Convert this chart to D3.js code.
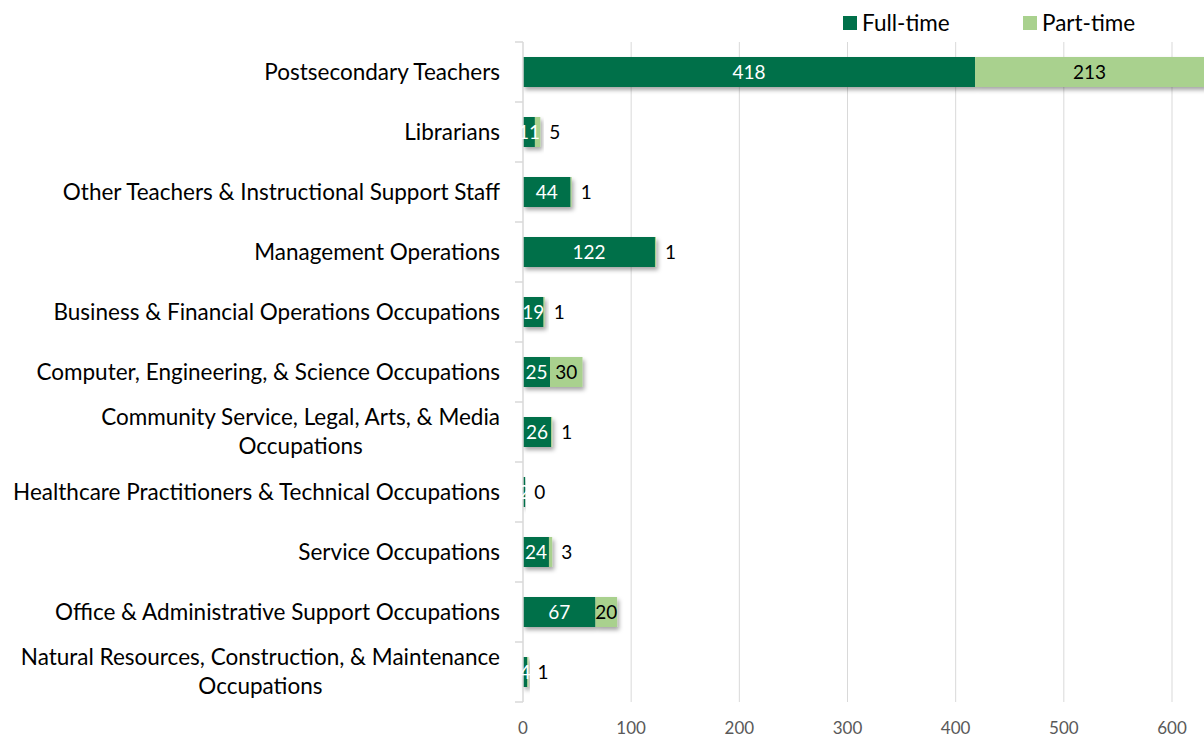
<!DOCTYPE html>
<html>
<head>
<meta charset="utf-8">
<script src="https://cdn.jsdelivr.net/npm/d3@7"></script>
<style>
  body { margin: 0; background: #fff; }
  svg { display: block; font-family: Lato, "Open Sans", sans-serif; }
</style>
</head>
<body>
<svg id="chart"></svg>
<script>
const width = 1204, height = 737;

const categories = [
  ["Postsecondary Teachers"],
  ["Librarians"],
  ["Other Teachers & Instructional Support Staff"],
  ["Management Operations"],
  ["Business & Financial Operations Occupations"],
  ["Computer, Engineering, & Science Occupations"],
  ["Community Service, Legal, Arts, & Media", "Occupations"],
  ["Healthcare Practitioners & Technical Occupations"],
  ["Service Occupations"],
  ["Office & Administrative Support Occupations"],
  ["Natural Resources, Construction, & Maintenance", "Occupations"]
];
const fullTime = [418, 11, 44, 122, 19, 25, 26, 2, 24, 67, 4];
const partTime = [213, 5, 1, 1, 1, 30, 1, 0, 3, 20, 1];
const xTicks = [0, 100, 200, 300, 400, 500, 600];
const seriesNames = ["Full-time", "Part-time"];
const colors = { full: "#00704a", part: "#a9d18e" };

const svg = d3.select("#chart").attr("width", width).attr("height", height);

const x = d3.scaleLinear().domain([0, 600]).range([523, 1172]);
const y = d3.scaleBand().domain(d3.range(categories.length)).range([42, 702]).paddingInner(0.5).paddingOuter(0.25);
const band = d3.scaleBand().domain(d3.range(categories.length)).range([42, 702]);

const defs = svg.append("defs");
const f = defs.append("filter").attr("id", "shadow").attr("x", "-20%").attr("y", "-20%").attr("width", "140%").attr("height", "160%");
f.append("feDropShadow").attr("dx", 2).attr("dy", 3).attr("stdDeviation", 2).attr("flood-color", "#000").attr("flood-opacity", 0.35);

// gridlines
svg.append("g").selectAll("line").data(xTicks.slice(1)).enter().append("line")
  .attr("x1", d => x(d)).attr("x2", d => x(d)).attr("y1", 42).attr("y2", 702)
  .attr("stroke", "#d9d9d9").attr("stroke-width", 1);

// bars
const rows = svg.append("g").selectAll("g").data(categories).enter().append("g")
  .attr("filter", "url(#shadow)");
rows.append("rect")
  .attr("x", x(0)).attr("y", (d, i) => y(i))
  .attr("width", (d, i) => x(fullTime[i]) - x(0)).attr("height", y.bandwidth())
  .attr("fill", colors.full);
rows.append("rect")
  .attr("x", (d, i) => x(fullTime[i])).attr("y", (d, i) => y(i))
  .attr("width", (d, i) => x(fullTime[i] + partTime[i]) - x(fullTime[i])).attr("height", y.bandwidth())
  .attr("fill", colors.part);

// y axis line with category ticks
const axisG = svg.append("g");
axisG.append("line").attr("x1", x(0)).attr("x2", x(0)).attr("y1", 42).attr("y2", 702)
  .attr("stroke", "#d9d9d9").attr("stroke-width", 1.5);
axisG.selectAll(".tk").data(d3.range(categories.length + 1)).enter().append("line")
  .attr("x1", x(0) - 8).attr("x2", x(0))
  .attr("y1", i => 42 + i * band.step()).attr("y2", i => 42 + i * band.step())
  .attr("stroke", "#d9d9d9").attr("stroke-width", 1.5);

// full-time labels (white, centred)
svg.append("g").selectAll("text").data(fullTime).enter().append("text")
  .attr("x", (d, i) => (x(0) + x(d)) / 2).attr("y", (d, i) => y(i) + y.bandwidth() / 2)
  .attr("dy", "0.35em").attr("text-anchor", "middle")
  .attr("font-size", 19).attr("fill", "#fff").text(d => d);

// part-time labels
svg.append("g").selectAll("text").data(partTime).enter().append("text")
  .attr("x", (d, i) => d >= 10 ? (x(fullTime[i]) + Math.min(x(fullTime[i] + d), width)) / 2 : x(fullTime[i] + d) + 9)
  .attr("y", (d, i) => y(i) + y.bandwidth() / 2)
  .attr("dy", "0.35em").attr("text-anchor", d => d >= 10 ? "middle" : "start")
  .attr("font-size", 19).attr("fill", "#000").text(d => d);

// category labels
const catG = svg.append("g").selectAll("text").data(categories).enter().append("text")
  .attr("font-size", 22.5).attr("fill", "#000").attr("text-anchor", "middle");
catG.each(function(lines, i) {
  const t = d3.select(this);
  const cy = band(i) + band.step() / 2;
  const lh = 29;
  // measure widest line to right-align block at x=500
  const tspans = lines.map((l, k) => t.append("tspan").attr("y", cy + (k - (lines.length - 1) / 2) * lh).attr("dy", "0.35em").text(l));
  let w = 0;
  tspans.forEach(s => { w = Math.max(w, s.node().getComputedTextLength()); });
  tspans.forEach(s => s.attr("x", 500 - w / 2));
});

// x tick labels
svg.append("g").selectAll("text").data(xTicks).enter().append("text")
  .attr("x", d => x(d)).attr("y", 728).attr("dy", "0.35em").attr("text-anchor", "middle")
  .attr("font-size", 17).attr("fill", "#595959").text(d => d);

// legend
const legendX = [843, 1023];
const lg = svg.append("g").selectAll("g").data(seriesNames).enter().append("g")
  .attr("transform", (d, i) => `translate(${legendX[i]},16)`);
lg.append("rect").attr("width", 14).attr("height", 14).attr("fill", (d, i) => i === 0 ? colors.full : colors.part);
lg.append("text").attr("x", 19).attr("y", 7).attr("dy", "0.35em").attr("font-size", 22.5).attr("fill", "#000").text(d => d);
</script>
</body>
</html>
